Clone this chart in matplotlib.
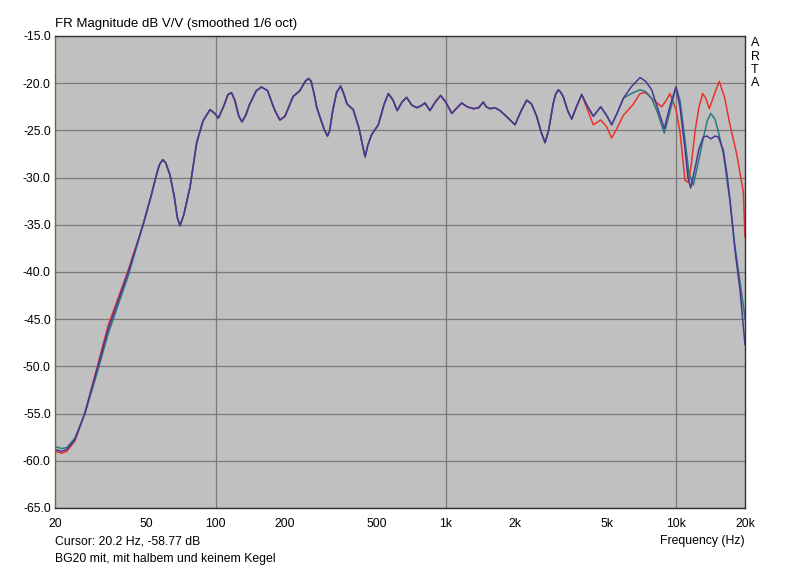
import numpy as np
import matplotlib
matplotlib.use('Agg')
import matplotlib.pyplot as plt

plt.rcParams['font.family'] = ['Liberation Sans', 'DejaVu Sans']

# low end, slightly different per measurement (Hz, dB)
lf_freq = [20, 21.4, 22.5, 24.4, 27.0, 30.4, 34.0, 41.5]
red_lf = [-59.0, -59.2, -59.0, -57.9, -54.9, -50.2, -45.7, -39.9]
teal_lf = [-58.5, -58.7, -58.6, -57.6, -55.0, -50.8, -46.6, -40.5]
purple_lf = [-58.8, -59.0, -58.8, -57.8, -54.9, -50.4, -46.1, -40.1]

# common part, all three curves lie on top of each other
mid_freq = [48.3, 52, 55.5, 57, 58.8, 60.5, 63.2, 66, 68, 69.9, 72.5, 77.3, 82.6,
            88, 94.4, 99, 102.6, 108, 113, 117, 121, 126, 130, 135, 140, 150, 158, 168,
            180, 190, 200, 217, 232, 245, 253, 260, 268, 275, 284, 296, 306, 313, 322,
            335, 349, 360, 372, 396, 420, 435, 446, 458, 475, 509, 540, 563, 590, 615, 645,
            676, 710, 747, 780, 812, 854, 900, 950, 1000, 1062, 1120, 1173,
            1240, 1318, 1390, 1456, 1500, 1558, 1640, 1722, 1850, 2000, 2120, 2248,
            2360, 2484, 2600, 2702, 2800, 2930, 3000, 3086, 3170, 3250, 3400, 3529, 3700, 3900]
mid_db = [-35.0, -32.2, -29.5, -28.6, -28.1, -28.4, -29.7, -32.0, -34.2, -35.1, -34.0, -31.0, -26.3,
          -24.0, -22.8, -23.2, -23.7, -22.5, -21.2, -21.0, -21.8, -23.5, -24.1, -23.4, -22.3, -20.8, -20.4, -20.8,
          -22.8, -23.9, -23.5, -21.4, -20.8, -19.8, -19.5, -19.8, -21.2, -22.6, -23.6, -24.9, -25.6, -25.0, -23.0,
          -21.0, -20.3, -21.1, -22.2, -22.8, -24.8, -26.6, -27.8, -26.6, -25.5, -24.4, -22.2, -21.1, -21.8, -22.9, -22.0,
          -21.5, -22.3, -22.6, -22.4, -22.1, -22.9, -22.0, -21.3, -22.0, -23.2, -22.6, -22.1,
          -22.5, -22.7, -22.6, -22.0, -22.5, -22.7, -22.6, -22.9, -23.6, -24.4, -23.0, -21.8,
          -22.2, -23.5, -25.2, -26.3, -25.0, -22.2, -21.2, -20.7, -21.0, -21.5, -23.0, -23.8, -22.5, -21.2]

# high end, the three cone variants
red_hf_freq = [4100, 4380, 4718, 5000, 5266, 5600, 5916, 6500, 6994, 7400, 7858, 8300,
               8687, 9100, 9440, 10020, 10430, 10970, 11340, 11700, 12130, 12600, 13100, 13500,
               13990, 14700, 15460, 16300, 17210, 18400, 19660, 20000]
red_hf_db = [-22.6, -24.4, -23.9, -24.6, -25.8, -24.6, -23.4, -22.3, -21.1, -21.0, -21.6, -22.1,
             -22.5, -21.8, -21.1, -22.8, -25.1, -30.3, -30.5, -28.5, -25.1, -22.6, -21.1, -21.6,
             -22.7, -21.2, -19.8, -21.5, -24.4, -27.5, -31.5, -36.3]

teal_hf_freq = [4100, 4380, 4718, 5000, 5266, 5600, 5916, 6400, 6994, 7400, 7858, 8300,
                8914, 9440, 10020, 10430, 10970, 11400, 11920, 12500, 13180, 13700, 14190, 14800,
                15310, 16100, 17210, 18090, 19020, 20000]
teal_hf_db = [-22.3, -23.5, -22.5, -23.4, -24.4, -23.0, -21.6, -21.1, -20.7, -20.9, -21.6, -23.0,
              -25.3, -23.0, -20.4, -21.8, -26.0, -29.5, -30.8, -28.5, -25.8, -24.0, -23.2, -23.8,
              -25.1, -27.5, -32.5, -37.3, -41.0, -44.9]

purple_hf_freq = [4100, 4380, 4718, 5000, 5266, 5600, 5916, 6400, 6994, 7400, 7858, 8300,
                  8914, 9440, 10020, 10430, 10970, 11300, 11610, 12130, 12600, 13180, 13700, 14190,
                  14800, 15310, 16100, 16640, 17210, 18090, 19020, 20000]
purple_hf_db = [-22.3, -23.5, -22.5, -23.4, -24.4, -23.0, -21.6, -20.4, -19.4, -19.8, -20.7, -22.5,
                -24.8, -22.4, -20.4, -22.5, -27.0, -30.0, -31.1, -29.0, -27.0, -25.7, -25.6, -25.9,
                -25.6, -25.7, -27.1, -29.4, -32.4, -37.7, -41.9, -47.7]

curves = [
    ('red', '#e8332e', red_lf, red_hf_freq, red_hf_db),
    ('teal', '#2a7a7e', teal_lf, teal_hf_freq, teal_hf_db),
    ('purple', '#4e3594', purple_lf, purple_hf_freq, purple_hf_db),
]

yticks = [-15.0, -20.0, -25.0, -30.0, -35.0, -40.0, -45.0, -50.0, -55.0, -60.0, -65.0]
xticks = [20, 50, 100, 200, 500, 1000, 2000, 5000, 10000, 20000]
xlabels = ['20', '50', '100', '200', '500', '1k', '2k', '5k', '10k', '20k']

fig = plt.figure(figsize=(8.0, 5.69), dpi=100)
ax = fig.add_axes([55 / 800, 1 - 508 / 569, 690 / 800, 472 / 569])
ax.set_facecolor('#c0c0c0')

for name, col, lf_db, hf_f, hf_d in curves:
    f = np.concatenate([lf_freq, mid_freq, hf_f])
    d = np.concatenate([lf_db, mid_db, hf_d])
    ax.plot(f, d, color=col, lw=1.1)

ax.set_xscale('log')
ax.set_xlim(20, 20000)
ax.set_ylim(-65, -15)

# grid: every 5 dB, decades only on x
for y in yticks:
    ax.axhline(y, color='#7a7a7a', lw=0.9, zorder=0)
for x in [100, 1000, 10000]:
    ax.axvline(x, color='#7a7a7a', lw=0.9, zorder=0)

ax.set_yticks(yticks)
ax.set_yticklabels([f'{v:.1f}' for v in yticks], fontsize=8.8)
ax.set_xticks(xticks)
ax.set_xticklabels(xlabels, fontsize=8.8)
ax.minorticks_off()
ax.tick_params(length=0, pad=3)
ax.tick_params(axis='x', pad=7)

for s in ax.spines.values():
    s.set_color('#303030')
    s.set_linewidth(1.0)
ax.spines['left'].set_color('#6b6b3a')

fig.text(55 / 800, 1 - 24 / 569, 'FR Magnitude dB V/V (smoothed 1/6 oct)',
         fontsize=9.5, ha='left', va='center')
for i, ch in enumerate('ARTA'):
    fig.text(755 / 800, 1 - (43 + i * 13.5) / 569, ch, fontsize=9, ha='center', va='center')
fig.text(55 / 800, 1 - 541 / 569, 'Cursor: 20.2 Hz, -58.77 dB', fontsize=8.8, ha='left', va='center')
fig.text(745 / 800, 1 - 541 / 569, 'Frequency (Hz)', fontsize=8.8, ha='right', va='center')
fig.text(55 / 800, 1 - 559 / 569, 'BG20 mit, mit halbem und keinem Kegel', fontsize=8.8,
         ha='left', va='center')

fig.savefig('out.png', dpi=100)
